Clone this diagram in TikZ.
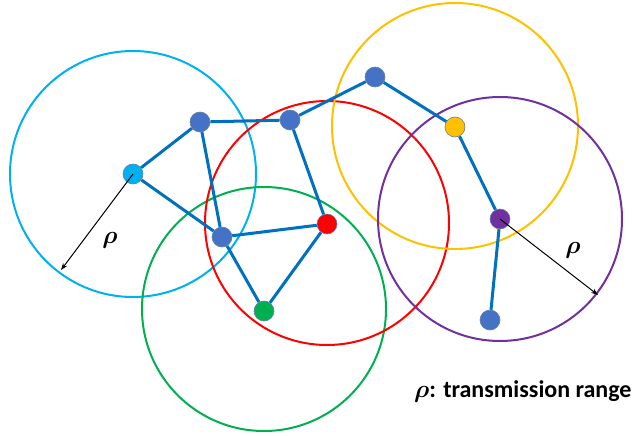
\documentclass[tikz,border=0pt]{standalone}
\usepackage{fontspec}
\usepackage{bm}
\newfontfamily\calib{Carlito}
\usetikzlibrary{arrows.meta}
\definecolor{cyanc}{HTML}{00B0F0}
\definecolor{redc}{HTML}{FF0000}
\definecolor{greenc}{HTML}{00B050}
\definecolor{yellowc}{HTML}{FFC000}
\definecolor{purplec}{HTML}{7030A0}
\definecolor{bluen}{HTML}{4472C4}
\definecolor{edgec}{HTML}{0070C0}
\definecolor{rimc}{HTML}{6A7FA8}
\tikzset{
  sensor/.style={circle, minimum size=20pt, inner sep=0pt, draw=rimc, line width=0.6pt, fill=#1},
  link/.style={draw=edgec, line width=3pt},
  range/.style={draw=#1, line width=2pt},
  radius arrow/.style={draw=black, line width=1pt, -{Stealth[length=7pt,width=5pt]}},
  rholabel/.style={font=\fontsize{25}{28}\selectfont}
}
\begin{document}
\begin{tikzpicture}[x=1pt,y=-1pt]
\useasboundingbox (0,0) rectangle (635,436);
% node positions
\coordinate (pA) at (133,174);
\coordinate (pB) at (200,122);
\coordinate (pC) at (290,120);
\coordinate (pD) at (375,77);
\coordinate (pE) at (455,127);
\coordinate (pF) at (500,219);
\coordinate (pG) at (490,320);
\coordinate (pH) at (327,224);
\coordinate (pI) at (222,237);
\coordinate (pJ) at (264,311);
% ranges
\draw[range=cyanc] (pA) circle[radius=123];
\draw[range=greenc] (264,309) circle[radius=122];
\draw[range=redc] (327,223) circle[radius=122];
\draw[range=yellowc] (455,126) circle[radius=123];
\draw[range=purplec] (500,219) circle[radius=122];
% nodes
\node[sensor=cyanc] (A) at (pA) {};
\node[sensor=bluen] (B) at (pB) {};
\node[sensor=bluen] (C) at (pC) {};
\node[sensor=bluen] (D) at (pD) {};
\node[sensor=yellowc] (E) at (pE) {};
\node[sensor=purplec] (F) at (pF) {};
\node[sensor=bluen] (G) at (pG) {};
\node[sensor=redc] (H) at (pH) {};
\node[sensor=bluen] (I) at (pI) {};
\node[sensor=greenc] (J) at (pJ) {};
% links
\foreach \u/\v in {A/B,A/I,B/C,B/I,C/D,D/E,E/F,F/G,C/H,I/H,I/J,J/H}
  \draw[link] (\u) -- (\v);
% radius arrows
\coordinate (tipA) at (61,270);
\coordinate (tipF) at (598,295);
\draw[radius arrow] (A.center) -- (tipA);
\draw[radius arrow] (F.center) -- (tipF);
\node[rholabel] (rho1) at (110,240) {$\bm{\rho}$};
\node[rholabel] (rho2) at (573,250) {$\bm{\rho}$};
\node[anchor=base west, inner sep=0pt, font=\fontsize{24}{27}\selectfont] (legend) at (414,397) {$\bm{\rho}${\calib\bfseries: transmission range}};
\end{tikzpicture}
\end{document}
